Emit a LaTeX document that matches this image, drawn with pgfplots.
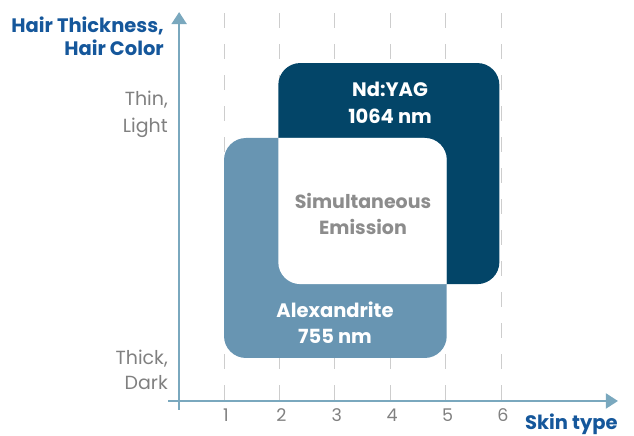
\documentclass[border=0pt]{standalone}
\usepackage{pgfplots}
\pgfplotsset{compat=1.18}
\usetikzlibrary{arrows.meta}
\usepackage{fontspec}
\setmainfont{Poppins}
\definecolor{darkbox}{RGB}{3,69,104}
\definecolor{lightbox}{RGB}{104,149,178}
\definecolor{axcol}{RGB}{122,168,190}
\definecolor{titleblue}{RGB}{21,87,155}
\definecolor{lblgray}{RGB}{128,128,128}
\definecolor{simgray}{RGB}{140,140,140}
\definecolor{gridgray}{RGB}{205,205,205}
\begin{document}
\begin{tikzpicture}[x=1pt,y=1pt]
\useasboundingbox (0,0) rectangle (634,436);
\begin{axis}[
  at={(0,0)}, anchor=south west,
  scale only axis, width=634pt, height=436pt,
  xmin=-3.043, xmax=8.400, ymin=-0.632, ymax=7.238,
  axis x line=middle, axis y line=none,
  axis line style={draw=none},
  xtick={1,2,3,4,5,6}, ytick=\empty,
  major tick length=0pt,
  xticklabel style={font=\fontsize{17.5}{17.5}\selectfont, text=lblgray, xshift=2pt, yshift=-4pt},
  /pgf/number format/assume math mode=true,
  clip=false,
]
% dashed grid lines
\pgfplotsinvokeforeach{1,2,3,4,5,6}{
  \draw[gridgray, line width=1pt, dash pattern=on 15pt off 16pt] (axis cs:#1,7.0) -- (axis cs:#1,0);
}
% boxes
\fill[darkbox, rounded corners=22pt] (axis cs:1.98,2.11) rectangle (axis cs:5.97,6.10);
\fill[lightbox, rounded corners=22pt] (axis cs:1.00,0.776) rectangle (axis cs:5.02,4.747);
\begin{scope}
  \clip[rounded corners=22pt] (axis cs:1.98,2.11) rectangle (axis cs:5.97,6.10);
  \fill[white, rounded corners=22pt] (axis cs:1.00,0.776) rectangle (axis cs:5.02,4.747);
\end{scope}
% axes
\draw[axcol, line width=2pt, -{Triangle[width=15pt,length=12pt]}] (axis cs:0.19,-0.16) -- (axis cs:0.19,7.02);
\draw[axcol, line width=2pt, -{Triangle[width=15pt,length=12pt]}] (axis cs:-0.01,0) -- (axis cs:8.11,0);
% texts
\node[text=white, font=\bfseries\fontsize{19.5}{27}\selectfont, align=center] at (axis cs:3.997,5.379) {Nd:YAG\\1064 nm};
\node[text=simgray, font=\bfseries\fontsize{19}{26}\selectfont, align=center] at (axis cs:3.509,3.375) {Simultaneous\\Emission};
\node[text=white, font=\bfseries\fontsize{19.5}{26}\selectfont, align=center] at (axis cs:3.004,1.408) {Alexandrite\\755 nm};
\node[text=titleblue, font=\bfseries\fontsize{19.5}{23}\selectfont, align=right, anchor=east, inner sep=0pt] at (axis cs:-0.083,6.58) {Hair Thickness,\\Hair Color};
\node[text=lblgray, font=\fontsize{19}{27}\selectfont, align=right, anchor=east, inner sep=0pt] at (axis cs:-0.011,5.18) {Thin,\\Light};
\node[text=lblgray, font=\fontsize{19}{25}\selectfont, align=right, anchor=east, inner sep=0pt] at (axis cs:-0.011,0.56) {Thick,\\Dark};
\node[text=titleblue, font=\bfseries\fontsize{19.5}{19.5}\selectfont, anchor=base west, inner sep=0pt] at (axis cs:6.43,-0.523) {Skin type};
\end{axis}
\end{tikzpicture}
\end{document}
